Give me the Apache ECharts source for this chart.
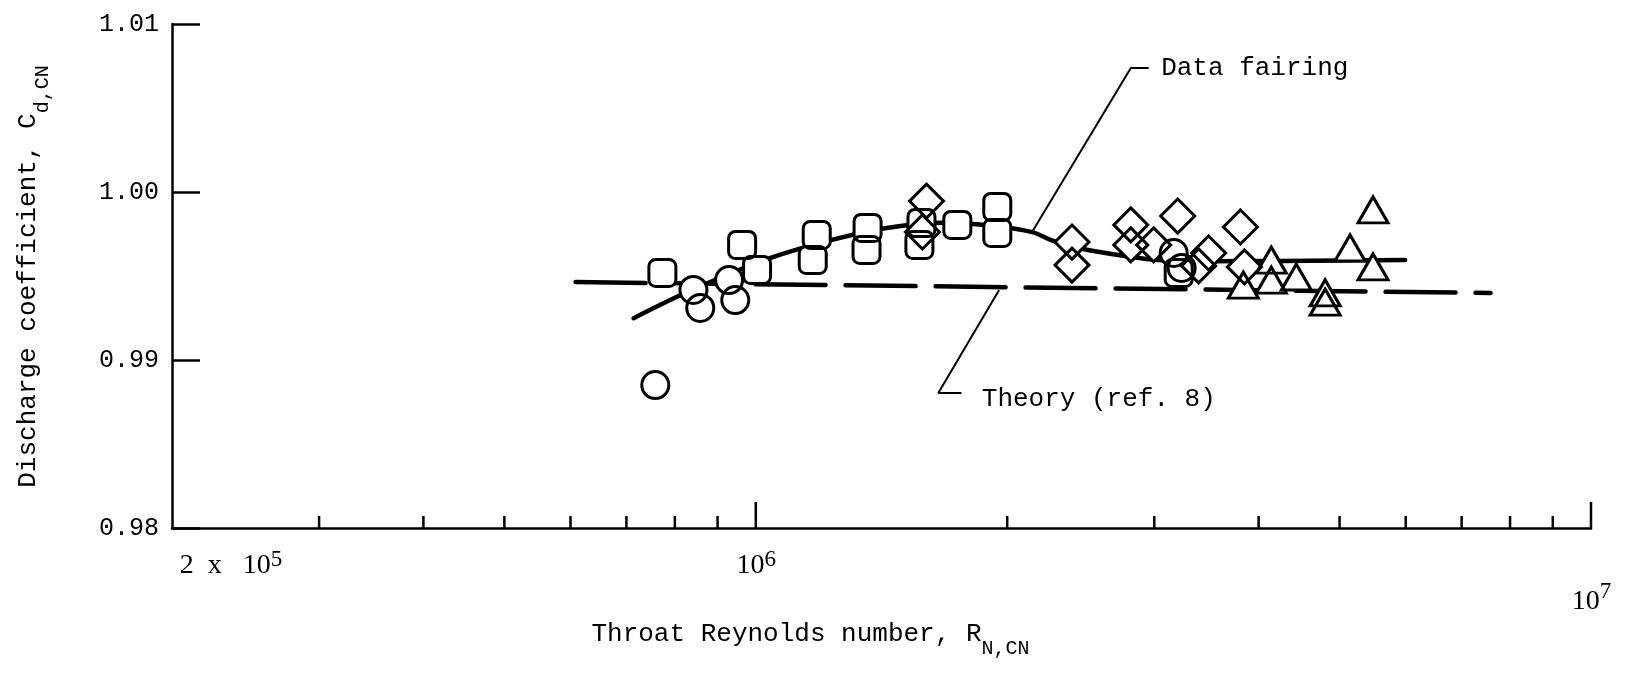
<!DOCTYPE html>
<html>
<head>
<meta charset="utf-8">
<title>Discharge coefficient vs throat Reynolds number</title>
<script src="https://cdn.jsdelivr.net/npm/echarts@6/dist/echarts.min.js"></script>
<style>
  html, body { margin: 0; padding: 0; background: #fff; }
  #chart { width: 1625px; height: 673px; }
</style>
</head>
<body>
<div id="chart"></div>
<script>
// throat Reynolds number vs discharge coefficient
const circlePts = [
  [7.58e5, 0.98851], [8.42e5, 0.99417], [8.58e5, 0.99310], [9.29e5, 0.99476],
  [9.45e5, 0.99357], [3.165e6, 0.99637], [3.235e6, 0.99548]
];
const squarePts = [
  [7.73e5, 0.99518], [9.63e5, 0.99685], [1.0035e6, 0.99536], [1.183e6, 0.99744],
  [1.170e6, 0.99595], [1.361e6, 0.99786], [1.357e6, 0.99655], [1.579e6, 0.99815],
  [1.570e6, 0.99685], [1.743e6, 0.99804], [1.946e6, 0.99911], [1.946e6, 0.99756],
  [3.209e6, 0.99518]
];
const diamondPts = [
  [1.601e6, 0.99946], [1.583e6, 0.99762], [2.391e6, 0.99702], [2.391e6, 0.99565],
  [2.812e6, 0.99804], [2.812e6, 0.99685], [2.995e6, 0.99685], [3.200e6, 0.99857],
  [3.485e6, 0.99637], [3.804e6, 0.99792], [3.846e6, 0.99554], [3.390e6, 0.99560]
];
const trianglePts = [
  [3.835e6, 0.99446], [4.142e6, 0.99595], [4.142e6, 0.99476], [4.438e6, 0.99494],
  [4.805e6, 0.99399], [4.805e6, 0.99345], [5.146e6, 0.99667], [5.483e6, 0.99893],
  [5.483e6, 0.99554]
];
// solid curve ("Data fairing")
const fairing = [
  [7.14e5, 0.99249], [8.12e5, 0.99385], [9.20e5, 0.99502], [1.031e6, 0.99601],
  [1.227e6, 0.99712], [1.434e6, 0.99786], [1.673e6, 0.99817], [1.929e6, 0.99798],
  [2.143e6, 0.99761], [2.262e6, 0.99712], [2.458e6, 0.99662], [2.817e6, 0.99613],
  [3.034e6, 0.99595], [3.41e6, 0.99588], [5.99e6, 0.99595]
];
// dashed line ("Theory (ref. 8)")
const theory = [[6.085e5, 0.99464], [7.58e6, 0.99399]];

// leader lines and notes
const fairingLeader = [[2.142e6, 0.99762], [2.812e6, 1.00738], [2.954e6, 1.00738]];
const theoryLeader = [[1.956e6, 0.99417], [1.654e6, 0.98804], [1.763e6, 0.98804]];
const notes = [
  { name: 'Data fairing', value: [3.053e6, 1.00738] },
  { name: 'Theory (ref. 8)', value: [1.862e6, 0.98768] }
];

// axis ticks / labels
const xLabelValues = [2e5, 1e6, 1e7];
const minorTicks = [3e5, 4e5, 5e5, 6e5, 7e5, 8e5, 9e5, 2e6, 3e6, 4e6, 5e6, 6e6, 7e6, 8e6, 9e6];
const majorTicks = [1e6, 1e7];

const mono = '"Liberation Mono", "DejaVu Sans Mono", monospace';
const serif = '"Liberation Serif", "DejaVu Serif", serif';
const ink = '#000';

const chart = echarts.init(document.getElementById('chart'));

function tickSeries(values, len) {
  return {
    type: 'custom',
    silent: true,
    z: 6,
    data: values.map(v => [v, 0.98]),
    renderItem: (params, api) => {
      const p = api.coord([api.value(0), 0.98]);
      return {
        type: 'line',
        shape: { x1: p[0], y1: p[1], x2: p[0], y2: p[1] - len },
        style: { stroke: ink, lineWidth: 2.5 }
      };
    }
  };
}

function markerSeries(data, symbol, size) {
  return [
    {
      type: 'scatter', data, symbol, symbolSize: size, silent: true, z: 3,
      itemStyle: { color: '#fff', borderWidth: 0, opacity: 1 }
    },
    {
      type: 'scatter', data, symbol, symbolSize: size, silent: true, z: 4,
      itemStyle: { color: 'rgba(0,0,0,0)', borderColor: ink, borderWidth: 3, opacity: 1 }
    }
  ];
}

function lineSeries(data, extra) {
  return Object.assign({
    type: 'line', data, showSymbol: false, symbol: 'none', silent: true, z: 2,
    lineStyle: { color: ink, width: 2 }
  }, extra);
}

const option = {
  animation: false,
  backgroundColor: '#fff',
  grid: { left: 172, right: 34, top: 24, bottom: 145, containLabel: false, outerBoundsMode: 'none' },
  xAxis: {
    type: 'log',
    logBase: 10,
    min: 2e5,
    max: 1e7,
    axisLine: { show: true, lineStyle: { color: ink, width: 2.5 } },
    axisTick: { show: false },
    minorTick: { show: false },
    splitLine: { show: false },
    axisLabel: {
      customValues: xLabelValues,
      margin: 20,
      color: ink,
      formatter: v => {
        if (v < 5e5) return '{gap| }{b|2  x   10}{sup|5}';
        if (v < 5e6) return '{sp| }{b|10}{sup|6}';
        return '{sp2| }{b|10}{sup7|7}';
      },
      rich: {
        gap: { width: 118, lineHeight: 32, fontSize: 4 },
        sp: { width: 1, lineHeight: 32, fontSize: 4 },
        sp2: { width: 1, lineHeight: 68, fontSize: 4 },
        b: { fontFamily: serif, fontSize: 28, color: ink, verticalAlign: 'bottom' },
        sup: { fontFamily: serif, fontSize: 23, color: ink, verticalAlign: 'top' },
        sup7: { fontFamily: serif, fontSize: 23, color: ink, verticalAlign: 'bottom', padding: [0, 0, 13, 0] }
      }
    },
    name: '{a|Throat Reynolds number, R}{s|N,CN}{gap| }',
    nameLocation: 'middle',
    nameGap: 91,
    nameTextStyle: {
      color: ink,
      rich: {
        a: { fontFamily: mono, fontSize: 26, color: ink, verticalAlign: 'top' },
        s: { fontFamily: mono, fontSize: 20, color: ink, verticalAlign: 'bottom' },
        gap: { width: 142, lineHeight: 38, fontSize: 4 }
      }
    }
  },
  yAxis: {
    type: 'value',
    min: 0.98,
    max: 1.01,
    interval: 0.01,
    axisLine: { show: true, lineStyle: { color: ink, width: 2.5 } },
    axisTick: { show: true, inside: true, length: 28, lineStyle: { color: ink, width: 2.5 } },
    splitLine: { show: false },
    axisLabel: {
      margin: 13,
      fontFamily: mono,
      fontSize: 25,
      color: ink,
      formatter: v => v.toFixed(2)
    },
    name: '{a|Discharge coefficient, C}{s|d,CN}{sp| }',
    nameLocation: 'middle',
    nameRotate: 90,
    nameGap: 119,
    nameTextStyle: {
      color: ink,
      rich: {
        a: { fontFamily: mono, fontSize: 26, color: ink, verticalAlign: 'top' },
        s: { fontFamily: mono, fontSize: 20, color: ink, verticalAlign: 'bottom' },
        sp: { width: 1, lineHeight: 38, fontSize: 4 }
      }
    }
  },
  series: [
    lineSeries(theory, { lineStyle: { color: ink, width: 4.5, type: [70, 20], cap: 'round' } }),
    lineSeries(fairing, { smooth: 0.35, lineStyle: { color: ink, width: 4.5, cap: 'round' } }),
    lineSeries(fairingLeader),
    lineSeries(theoryLeader),
    ...markerSeries(circlePts, 'circle', 27),
    ...markerSeries(squarePts, 'roundRect', 27),
    ...markerSeries(diamondPts, 'diamond', 34),
    ...markerSeries(trianglePts, 'triangle', [30, 26]),
    tickSeries(minorTicks, 12),
    tickSeries(majorTicks, 26),
    {
      type: 'scatter',
      data: notes,
      symbolSize: 1,
      silent: true,
      itemStyle: { color: 'rgba(0,0,0,0)', opacity: 1 },
      label: {
        show: true,
        position: 'right',
        distance: 0,
        formatter: '{b}',
        fontFamily: mono,
        fontSize: 26,
        color: ink
      }
    }
  ]
};

chart.setOption(option);
</script>
</body>
</html>
